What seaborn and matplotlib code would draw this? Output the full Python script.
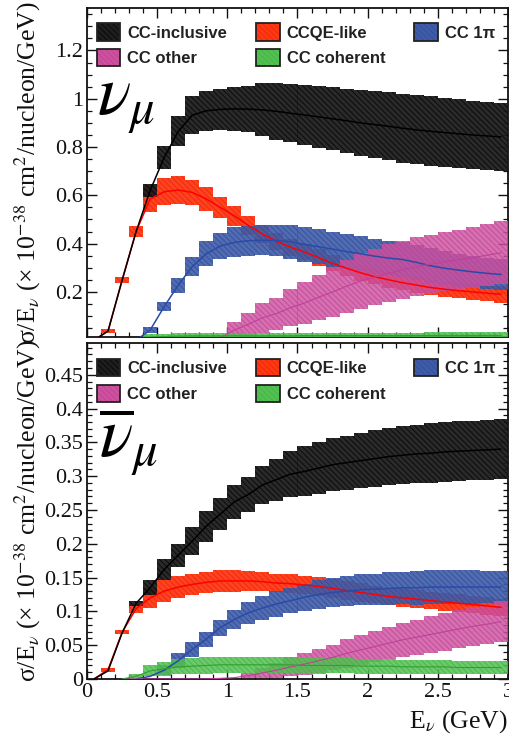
import numpy as np
import matplotlib
matplotlib.use("Agg")
import matplotlib.pyplot as plt
import seaborn as sns
from matplotlib.patches import Patch
from matplotlib.legend_handler import HandlerTuple
from matplotlib.ticker import MultipleLocator, FuncFormatter

nan = np.nan

# ---------------- data ----------------
energy = [0.05, 0.15, 0.25, 0.35, 0.45, 0.55, 0.65, 0.75, 0.85, 0.95,
          1.05, 1.15, 1.25, 1.35, 1.45, 1.55, 1.65, 1.75, 1.85, 1.95,
          2.05, 2.15, 2.25, 2.35, 2.45, 2.55, 2.65, 2.75, 2.85, 2.95]
bin_width = 0.1

labels = ["CC-inclusive", "CCQE-like", "CC 1\u03c0", "CC other", "CC coherent"]

# --- nu_mu (top panel): central value and band half-width ---
nu_incl = [0.0, 0.038, 0.248, 0.45, 0.62, 0.757, 0.865, 0.932, 0.95, 0.956,
           0.958, 0.957, 0.954, 0.948, 0.94, 0.933, 0.925, 0.917, 0.909, 0.9,
           0.893, 0.886, 0.878, 0.871, 0.865, 0.86, 0.855, 0.85, 0.846, 0.842]
nu_incl_err = [nan, nan, nan, nan, 0.028, 0.049, 0.062, 0.078, 0.083, 0.086,
               0.091, 0.095, 0.11, 0.117, 0.12, 0.125, 0.128, 0.13, 0.133, 0.136,
               0.139, 0.141, 0.142, 0.143, 0.145, 0.144, 0.143, 0.142, 0.141, 0.141]

nu_qe = [0.0, 0.038, 0.248, 0.45, 0.585, 0.615, 0.622, 0.612, 0.585, 0.55,
         0.515, 0.475, 0.44, 0.41, 0.385, 0.365, 0.342, 0.318, 0.298, 0.279,
         0.263, 0.25, 0.238, 0.228, 0.218, 0.211, 0.205, 0.2, 0.195, 0.19]
nu_qe_err = [nan, 0.01, 0.012, 0.022, 0.056, 0.056, 0.057, 0.052, 0.05, 0.045,
             0.042, 0.04, 0.038, 0.036, 0.035, 0.034, 0.034, 0.033, 0.033, 0.033,
             0.032, 0.032, 0.032, 0.032, 0.032, 0.032, 0.032, 0.033, 0.034, 0.035]

nu_1pi = [nan, nan, nan, 0.0, 0.042, 0.139, 0.228, 0.305, 0.358, 0.39,
          0.405, 0.412, 0.414, 0.413, 0.408, 0.397, 0.387, 0.377, 0.367, 0.358,
          0.348, 0.34, 0.334, 0.322, 0.308, 0.298, 0.29, 0.283, 0.277, 0.272]
nu_1pi_err = [nan, nan, nan, nan, 0.014, 0.02, 0.031, 0.041, 0.051, 0.055,
              0.062, 0.062, 0.062, 0.065, 0.07, 0.073, 0.073, 0.073, 0.073, 0.073,
              0.073, 0.072, 0.074, 0.073, 0.072, 0.07, 0.069, 0.067, 0.065, 0.063]

nu_other = [nan, nan, nan, nan, nan, nan, nan, 0.0, 0.003, 0.01,
            0.042, 0.066, 0.093, 0.11, 0.135, 0.154, 0.178, 0.2, 0.224, 0.245,
            0.262, 0.278, 0.292, 0.305, 0.315, 0.325, 0.333, 0.342, 0.352, 0.362]
nu_other_err = [nan, nan, nan, nan, nan, nan, nan, nan, nan, nan,
                0.032, 0.048, 0.062, 0.066, 0.076, 0.086, 0.094, 0.102, 0.11, 0.115,
                0.117, 0.119, 0.12, 0.121, 0.122, 0.123, 0.125, 0.127, 0.129, 0.131]

nu_coh = [nan, nan, nan, nan, 0.012, 0.015, 0.017, 0.018, 0.018, 0.018,
          0.018, 0.018, 0.018, 0.018, 0.018, 0.019, 0.019, 0.019, 0.019, 0.019,
          0.019, 0.019, 0.019, 0.019, 0.02, 0.02, 0.02, 0.02, 0.02, 0.02]
nu_coh_err = [nan, nan, nan, nan, 0.012, 0.012, 0.012, 0.012, 0.012, 0.012,
              0.012, 0.012, 0.012, 0.012, 0.012, 0.012, 0.012, 0.012, 0.012, 0.012,
              0.012, 0.012, 0.012, 0.012, 0.012, 0.012, 0.012, 0.012, 0.012, 0.012]

# --- anti-nu_mu (bottom panel) ---
nub_incl = [0.0, 0.012, 0.068, 0.112, 0.135, 0.162, 0.183, 0.204, 0.226, 0.244,
            0.262, 0.273, 0.287, 0.295, 0.303, 0.307, 0.312, 0.317, 0.32, 0.323,
            0.326, 0.329, 0.331, 0.333, 0.334, 0.336, 0.337, 0.338, 0.339, 0.34]
nub_incl_err = [nan, nan, nan, 0.004, 0.011, 0.016, 0.017, 0.021, 0.023, 0.024,
                0.025, 0.026, 0.028, 0.031, 0.034, 0.037, 0.038, 0.039, 0.04, 0.041,
                0.042, 0.042, 0.043, 0.043, 0.044, 0.044, 0.044, 0.044, 0.044, 0.044]

nub_qe = [0.0, 0.014, 0.069, 0.104, 0.12, 0.13, 0.136, 0.14, 0.143, 0.145,
          0.145, 0.145, 0.144, 0.142, 0.141, 0.139, 0.137, 0.134, 0.131, 0.128,
          0.125, 0.122, 0.12, 0.118, 0.116, 0.114, 0.112, 0.11, 0.108, 0.106]
nub_qe_err = [nan, 0.003, 0.003, 0.006, 0.015, 0.016, 0.016, 0.016, 0.016, 0.016,
              0.016, 0.015, 0.014, 0.014, 0.014, 0.014, 0.014, 0.014, 0.014, 0.014,
              0.013, 0.013, 0.013, 0.013, 0.013, 0.013, 0.013, 0.013, 0.013, 0.013]

nub_1pi = [nan, nan, nan, 0.0, 0.004, 0.013, 0.027, 0.044, 0.059, 0.076,
           0.088, 0.098, 0.105, 0.111, 0.116, 0.121, 0.125, 0.128, 0.13, 0.132,
           0.133, 0.134, 0.135, 0.135, 0.136, 0.136, 0.136, 0.136, 0.136, 0.136]
nub_1pi_err = [nan, nan, nan, nan, nan, 0.007, 0.011, 0.011, 0.011, 0.012,
               0.014, 0.016, 0.018, 0.019, 0.019, 0.02, 0.021, 0.022, 0.022, 0.023,
               0.023, 0.024, 0.024, 0.025, 0.025, 0.025, 0.025, 0.025, 0.024, 0.024]

nub_other = [nan, nan, 0.0, 0.0, 0.0, 0.0, 0.0, 0.0, 0.0, 0.001,
             0.002, 0.005, 0.009, 0.013, 0.018, 0.022, 0.027, 0.032, 0.038, 0.043,
             0.048, 0.053, 0.058, 0.062, 0.066, 0.07, 0.074, 0.078, 0.081, 0.085]
nub_other_err = [nan, nan, nan, nan, nan, nan, nan, nan, nan, nan,
                 nan, 0.004, 0.007, 0.011, 0.014, 0.016, 0.018, 0.019, 0.021, 0.022,
                 0.023, 0.024, 0.025, 0.026, 0.027, 0.028, 0.028, 0.029, 0.029, 0.03]

nub_coh = [nan, nan, 0.0, 0.004, 0.012, 0.015, 0.018, 0.019, 0.02, 0.021,
           0.021, 0.021, 0.021, 0.021, 0.021, 0.02, 0.02, 0.02, 0.02, 0.019,
           0.019, 0.019, 0.018, 0.018, 0.018, 0.018, 0.017, 0.017, 0.017, 0.017]
nub_coh_err = [nan, nan, nan, 0.004, 0.008, 0.01, 0.011, 0.012, 0.012, 0.012,
               0.012, 0.012, 0.012, 0.012, 0.012, 0.012, 0.012, 0.011, 0.011, 0.011,
               0.011, 0.011, 0.01, 0.01, 0.01, 0.01, 0.01, 0.01, 0.009, 0.009]

# ---------------- style ----------------
sns.set_theme(style="ticks")
plt.rcParams["font.family"] = ["Liberation Serif", "DejaVu Serif"]
plt.rcParams["mathtext.fontset"] = "stix"
plt.rcParams["hatch.linewidth"] = 0.7
plt.rcParams["axes.edgecolor"] = "#111111"

fill_col = {"incl": "#1e1e1e", "qe": "#ff3814", "1pi": "#3f5ca9",
            "other": "#cd519f", "coh": "#52c152"}
hatch_col = {"incl": "#0a0a0a", "qe": "#ee2a0a", "1pi": "#34509c",
             "other": "#c04494", "coh": "#46b446"}
line_col = {"incl": "#000000", "qe": "#ff0000", "1pi": "#2a4aa8",
            "other": "#c0409a", "coh": "#30a030"}
HATCH = "\\\\\\\\\\\\"

fig = plt.figure(figsize=(5.10, 7.34), dpi=100)
W, H = 510.0, 734.0
ax_top = fig.add_axes([87 / W, 1 - 337.3 / H, 421 / W, 329.8 / H])
ax_bot = fig.add_axes([87 / W, 1 - 679 / H, 421 / W, 336 / H])

x = np.array(energy)


def band(ax, c, e, key, alpha, z):
    c = np.array(c, float)
    e = np.array(e, float)
    ok = ~np.isnan(e)
    ax.bar(x[ok], 2 * e[ok], bottom=(c - e)[ok], width=bin_width, align="center",
           color=fill_col[key], edgecolor=hatch_col[key], linewidth=0,
           hatch=HATCH, alpha=alpha, antialiased=False, zorder=z)


def curve(ax, c, key, z, lw=1.0):
    c = np.array(c, float)
    ok = ~np.isnan(c)
    sns.lineplot(x=x[ok], y=c[ok], ax=ax, color=line_col[key], lw=lw,
                 zorder=z, legend=False)


panels = [
    (ax_top, [(nu_qe, nu_qe_err, "qe"), (nu_1pi, nu_1pi_err, "1pi"),
              (nu_other, nu_other_err, "other"), (nu_coh, nu_coh_err, "coh"),
              (nu_incl, nu_incl_err, "incl")]),
    (ax_bot, [(nub_qe, nub_qe_err, "qe"), (nub_1pi, nub_1pi_err, "1pi"),
              (nub_other, nub_other_err, "other"), (nub_coh, nub_coh_err, "coh"),
              (nub_incl, nub_incl_err, "incl")]),
]
alphas = {"qe": 0.95, "1pi": 0.9, "other": 0.82, "coh": 0.85, "incl": 0.95}

for ax, series in panels:
    for i, (c, e, key) in enumerate(series):
        band(ax, c, e, key, alphas[key], 2 + i)
    for c, e, key in series:
        curve(ax, c, key, 10, lw=1.1 if key in ("qe", "1pi", "incl") else 0.8)

# legend
order = ["incl", "other", "qe", "coh", "1pi"]
names = {"incl": labels[0], "qe": labels[1], "1pi": labels[2],
         "other": labels[3], "coh": labels[4]}
for ax, yanchor in [(ax_top, 1 - 16 / 329.8), (ax_bot, 1 - 16 / 336)]:
    handles = [(Patch(facecolor=fill_col[k], edgecolor=hatch_col[k], hatch=HATCH, lw=0),
                Patch(facecolor="none", edgecolor="#222222", lw=1.3)) for k in order]
    ax.legend(handles, [names[k] for k in order], ncol=3, loc="upper left",
              bbox_to_anchor=(10 / 421, yanchor), frameon=False,
              handler_map={tuple: HandlerTuple(ndivide=1, pad=0)},
              prop=dict(family="Liberation Sans", weight="bold", size=12),
              handlelength=1.4, handleheight=1.2, handletextpad=0.42,
              columnspacing=1.75, labelspacing=0.5, borderpad=0, borderaxespad=0,
              labelcolor="#222222")

# axes
fmt = FuncFormatter(lambda v, p: f"{v:g}")
for ax in (ax_top, ax_bot):
    ax.set_xlim(0, 3)
    ax.xaxis.set_major_locator(MultipleLocator(0.5))
    ax.xaxis.set_minor_locator(MultipleLocator(0.1))
    ax.xaxis.set_major_formatter(fmt)
    ax.yaxis.set_major_formatter(fmt)
    ax.tick_params(which="both", direction="in", top=True, right=True,
                   colors="#111111", labelsize=16, pad=3)
    ax.tick_params(which="major", length=7.5, width=1.0)
    ax.tick_params(which="minor", length=3.8, width=0.9)
    for s in ax.spines.values():
        s.set_linewidth(1.3)
    ax.set_facecolor("white")

ax_top.set_ylim(0.012, 1.378)
ax_top.yaxis.set_major_locator(MultipleLocator(0.2))
ax_top.yaxis.set_minor_locator(MultipleLocator(0.05))
ax_top.tick_params(labelbottom=False)

ax_bot.set_ylim(0, 0.497)
ax_bot.yaxis.set_major_locator(MultipleLocator(0.05))
ax_bot.yaxis.set_minor_locator(MultipleLocator(0.01))

ylabel = "\u03c3/E$_{\\nu}$ (\u00d7 10$^{-38}$ cm$^{2}$/nucleon/GeV)"
for ax in (ax_top, ax_bot):
    ax.set_ylabel(ylabel, fontsize=18.5, color="#111111")
    ax.yaxis.set_label_coords(-0.105, 0.5)

ax_bot.set_xlabel("E$_{\\nu}$ (GeV)", fontsize=18.5, color="#111111", loc="right", labelpad=4)

ax_top.text(10 / 421, (337.3 - 115) / 329.8, r"$\nu_{\mu}$", transform=ax_top.transAxes,
            fontsize=50, ha="left", va="baseline", color="black", zorder=20)
ax_bot.text(12 / 421, (679 - 457) / 336, r"$\overline{\nu}_{\mu}$", transform=ax_bot.transAxes,
            fontsize=50, ha="left", va="baseline", color="black", zorder=20)

fig.savefig("out.png", dpi=100, facecolor="white")
